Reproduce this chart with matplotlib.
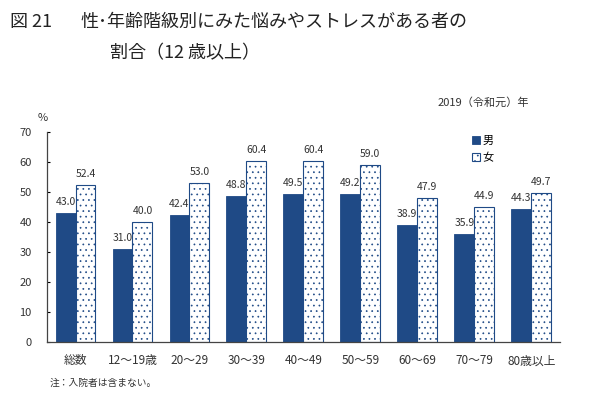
import matplotlib

matplotlib.use("Agg")
import matplotlib.pyplot as plt
import numpy as np

plt.rcParams["font.family"] = ["Noto Sans CJK JP", "DejaVu Sans"]
plt.rcParams["hatch.linewidth"] = 0.5

categories = ["総数", "12～19歳", "20～29", "30～39", "40～49", "50～59", "60～69", "70～79", "80歳以上"]
male = [43.0, 31.0, 42.4, 48.8, 49.5, 49.2, 38.9, 35.9, 44.3]
female = [52.4, 40.0, 53.0, 60.4, 60.4, 59.0, 47.9, 44.9, 49.7]
yticks = [0, 10, 20, 30, 40, 50, 60, 70]

NAVY = "#1F4A86"
TEXT = "#333333"

fig = plt.figure(figsize=(5.9, 3.99), dpi=100, facecolor="white")
ax = fig.add_axes([0.0797, 0.143, 0.869, 0.526])

x = np.arange(len(categories))
w = 0.35
ax.bar(x - w / 2, male, width=w, color=NAVY, edgecolor=NAVY, linewidth=0.6, label="男")
ax.bar(x + w / 2, female, width=w, color="white", edgecolor=NAVY, hatch="...", linewidth=0.8, label="女")

for xi, v in zip(x - w / 2, male):
    ax.text(xi, v + 2.0, f"{v:.1f}", ha="center", va="bottom", fontsize=7.5, color=TEXT)
for xi, v in zip(x + w / 2, female):
    ax.text(xi, v + 2.0, f"{v:.1f}", ha="center", va="bottom", fontsize=7.5, color=TEXT)

ax.set_xlim(-0.5, len(categories) - 0.5)
ax.set_ylim(0, 70)
ax.set_yticks(yticks)
ax.set_xticks(x)
ax.set_xticklabels(categories, fontsize=8.5, color=TEXT)
ax.tick_params(axis="x", length=0, pad=9)
ax.tick_params(axis="y", direction="in", length=2, labelsize=8, labelcolor=TEXT, pad=11)
for s in ("top", "right"):
    ax.spines[s].set_visible(False)
for s in ("left", "bottom"):
    ax.spines[s].set_color("#444444")
    ax.spines[s].set_linewidth(0.9)

leg = ax.legend(loc="upper left", bbox_to_anchor=(0.81, 1.03), frameon=False, fontsize=8,
                handlelength=0.7, handleheight=0.7, handletextpad=0.2, labelspacing=0.6)

fig.text(10 / 590, 1 - 22 / 399, "図 21", fontsize=13, va="center", ha="left", color="#222222")
fig.text(80 / 590, 1 - 22 / 399, "性･年齢階級別にみた悩みやストレスがある者の", fontsize=13, va="center", ha="left", color="#222222")
fig.text(110 / 590, 1 - 53 / 399, "割合（12 歳以上）", fontsize=13, va="center", ha="left", color="#222222")
fig.text(38 / 590, 1 - 118 / 399, "%", fontsize=8, va="center", ha="left", color=TEXT)
fig.text(438 / 590, 1 - 102 / 399, "2019（令和元）年", fontsize=8, va="center", ha="left", color=TEXT)
fig.text(50 / 590, 1 - 383 / 399, "注：入院者は含まない。", fontsize=7, va="center", ha="left", color=TEXT)

fig.savefig("out.png", dpi=100, facecolor="white")
